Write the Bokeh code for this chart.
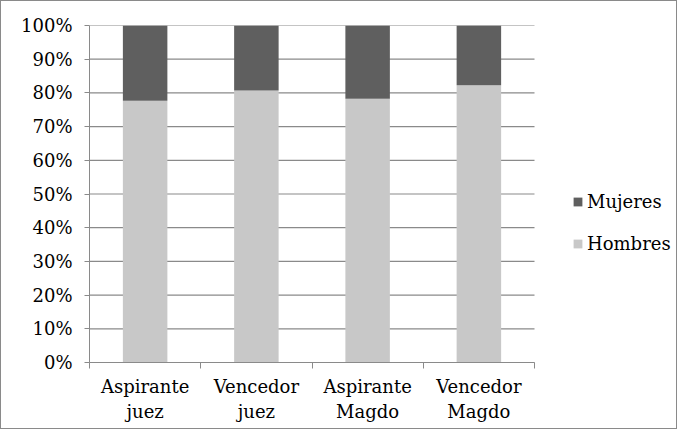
from bokeh.plotting import figure
from bokeh.models import Range1d, FixedTicker, NumeralTickFormatter, Legend, LegendItem
from bokeh.embed import file_html
from bokeh.resources import INLINE

categories = ["Aspirante\njuez", "Vencedor\njuez", "Aspirante\nMagdo", "Vencedor\nMagdo"]
hombres = [0.777, 0.807, 0.783, 0.823]
mujeres = [1 - h for h in hombres]
series_names = ["Hombres", "Mujeres"]
y_ticks = [0.0, 0.1, 0.2, 0.3, 0.4, 0.5, 0.6, 0.7, 0.8, 0.9, 1.0]

FONT = "DejaVu Serif"
FS = "18px"
GRID = "#8a8a8a"

n = len(categories)
xs = [i + 0.5 for i in range(n)]
data = {"x": xs, "Hombres": hombres, "Mujeres": mujeres}

# frame extends to the right edge so that the legend can sit inside it
p = figure(width=677, height=429, output_backend="svg", toolbar_location=None,
           x_range=Range1d(0, n * 589 / 445), y_range=Range1d(0, 1))
p.styles = {"border": "1px solid #8a8a8a"}
p.min_border_left = 88
p.min_border_right = 0
p.min_border_top = 24
p.min_border_bottom = 68
p.outline_line_color = None
p.background_fill_color = "white"
p.border_fill_color = "white"

# horizontal gridlines only across the category area
p.segment(x0=0, x1=n, y0=y_ticks, y1=y_ticks, line_color=GRID, line_width=1.2,
          level="underlay")

r = p.vbar_stack(series_names, x="x", width=0.4, source=data,
                 color=["#c8c8c8", "#5f5f5f"], line_color=None)

# axes
p.xaxis.bounds = (0, n)
p.xaxis.ticker = FixedTicker(ticks=xs, minor_ticks=list(range(n + 1)))
p.xaxis.major_label_overrides = {x: c for x, c in zip(xs, categories)}
p.xaxis.major_tick_out = 0
p.xaxis.major_tick_in = 0
p.xaxis.minor_tick_out = 6
p.xaxis.minor_tick_in = 0
p.xaxis.minor_tick_line_color = GRID
p.xaxis.major_label_standoff = 7

p.yaxis.ticker = FixedTicker(ticks=y_ticks)
p.yaxis.formatter = NumeralTickFormatter(format="0%")
p.yaxis.major_tick_out = 5
p.yaxis.major_tick_in = 0
p.yaxis.minor_tick_line_color = None
p.yaxis.major_label_standoff = 12

for ax in (p.xaxis, p.yaxis):
    ax.axis_line_color = GRID
    ax.major_tick_line_color = GRID
    ax.major_label_text_font = FONT
    ax.major_label_text_font_size = FS
    ax.major_label_text_color = "black"

p.xgrid.grid_line_color = None
p.ygrid.grid_line_color = None

legend = Legend(items=[LegendItem(label="Mujeres", renderers=[r[1]]),
                       LegendItem(label="Hombres", renderers=[r[0]])],
                location=(483, 108.5))
legend.border_line_color = None
legend.background_fill_alpha = 0
legend.padding = 0
legend.margin = 0
legend.glyph_width = 11
legend.glyph_height = 11
legend.label_height = 20
legend.spacing = 21
legend.label_standoff = 4
legend.label_text_font = FONT
legend.label_text_font_size = FS
legend.label_text_color = "black"
p.add_layout(legend, "center")

open("out.html", "w").write(file_html(p, INLINE))
